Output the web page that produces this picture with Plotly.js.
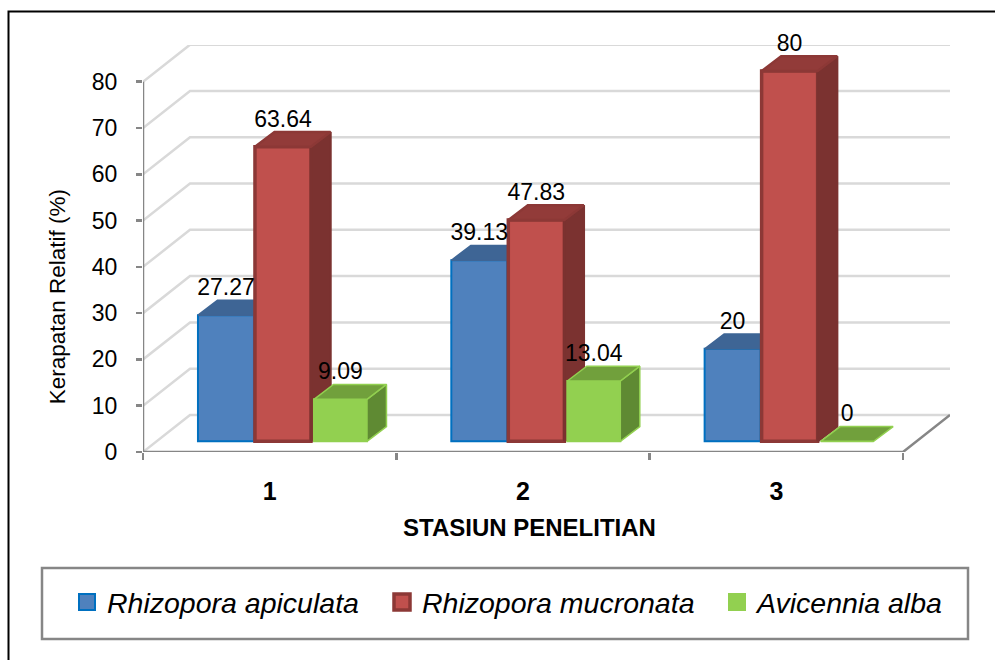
<!DOCTYPE html>
<html><head><meta charset="utf-8">
<script src="https://cdn.plot.ly/plotly-3.0.1.min.js"></script>
<style>html,body{margin:0;padding:0;background:#fff}</style>
</head><body><div id="chart" style="width:995px;height:660px"></div>
<script>
const categories = ['1','2','3'];
const apiculata = [27.27, 39.13, 20];
const mucronata = [63.64, 47.83, 80];
const alba = [9.09, 13.04, 0];
const seriesNames = ['Rhizopora apiculata','Rhizopora mucronata','Avicennia alba'];
const yTicks = [0,10,20,30,40,50,60,70,80];

const L=143,R=950,T=45,B=451.7;
const FONT='"Liberation Sans", Arial, sans-serif';
const px=x=>(x-L)/(R-L), py=y=>(B-y)/(B-T);
const CAT=253.33;
const wallX=47/CAT, wallY=8;
const xMax=3+wallX, yMax=(B-T)/4.625;
const base=2.3, depthY=3.2;
const styles=[
 {off:-43.7,w:56,dx:19.5,face:'#4f81bd',edge:'#0070c0',lw:2,top:'#3e6595',side:'#3e6595',topEdge:'#3e6595',sideEdge:'#3e6595',sw:1.5},
 {off:13.3,w:56,dx:19.5,face:'#c0504d',edge:'#8c3836',lw:3.5,top:'#923b39',side:'#7b3230',topEdge:'#8c3836',sideEdge:'#7b3230',sw:2.5},
 {off:70.8,w:53,dx:19.5,face:'#92d050',edge:'#92d050',lw:2,top:'#71a03c',side:'#5f8a33',topEdge:'#92d050',sideEdge:'#92d050',sw:1.5}
];
const values=[apiculata,mucronata,alba];
const suffix=['','2','3'];
const traces=[];
seriesNames.forEach((n,s)=>traces.push({type:'scatter',mode:'markers',x:[null],y:[null],name:n,
  legend:s?('legend'+(s+1)):'legend',hoverinfo:'skip',
  marker:{symbol:'square',size:16,color:styles[s].face,line:{color:styles[s].edge,width:styles[s].lw}}}));
const centers=s=>categories.map((c,i)=>i+0.5+styles[s].off/CAT);
values.forEach((vals,s)=>{
  const xa='x'+suffix[s], ya='y'+suffix[s], st=styles[s], barW=st.w/CAT, depthX=st.dx/CAT;
  const xs=centers(s);
  traces.push({type:'bar',x:xs,y:vals,base:base,width:barW,xaxis:xa,yaxis:ya,showlegend:false,hoverinfo:'skip',
    marker:{color:st.face,line:{color:st.edge,width:st.lw}}});
  const sx=[],sy=[],tx=[],ty=[];
  vals.forEach((v,i)=>{
    const l=xs[i]-barW/2,r=xs[i]+barW/2,h=base+v;
    if(v>0){sx.push(r,r+depthX,r+depthX,r,r,null);sy.push(base,base+depthY,h+depthY,h,base,null);}
    tx.push(l,r,r+depthX,l+depthX,l,null);ty.push(h,h,h+depthY,h+depthY,h,null);
  });
  traces.push({type:'scatter',mode:'lines',x:sx,y:sy,fill:'toself',fillcolor:st.side,line:{color:st.sideEdge,width:st.sw},xaxis:xa,yaxis:ya,showlegend:false,hoverinfo:'skip'});
  traces.push({type:'scatter',mode:'lines',x:tx,y:ty,fill:'toself',fillcolor:st.top,line:{color:st.topEdge,width:st.sw},xaxis:xa,yaxis:ya,showlegend:false,hoverinfo:'skip'});
});
values.forEach((vals,s)=>{
  traces.push({type:'scatter',mode:'text',xaxis:'x3',yaxis:'y3',showlegend:false,hoverinfo:'skip',cliponaxis:false,
    x:centers(s),y:vals.map(v=>base+v+5.6),
    text:vals.map(String),textposition:'middle center',textfont:{family:FONT,size:23,color:'#000'}});
});
const grey='#868686', gridc='#d9d9d9';
const shapes=[];
yTicks.forEach(v=>shapes.push({type:'path',layer:'below',xref:'x',yref:'y',
  path:`M0,${v} L${wallX},${v+wallY} L${3+wallX},${v+wallY}`,line:{color:gridc,width:2.5}}));
shapes.push({type:'path',layer:'below',xref:'x',yref:'y',path:`M0,80 L0,0 L3,0 L${3+wallX},${wallY}`,line:{color:grey,width:2.5}});
shapes.push({type:'path',layer:'above',xref:'paper',yref:'paper',
  path:`M${px(8.5)},${py(660)} L${px(8.5)},${py(11.5)} L${px(995)},${py(11.5)}`,line:{color:'#000',width:2}});
shapes.push({type:'rect',layer:'above',xref:'paper',yref:'paper',x0:px(42),x1:px(968),y0:py(638.5),y1:py(567.5),line:{color:grey,width:2.5}});
const hiddenX={range:[0,xMax],fixedrange:true,visible:false,overlaying:'x',anchor:'y'};
const hiddenY={range:[0,yMax],fixedrange:true,visible:false,overlaying:'y',anchor:'x'};
const legendBase=x=>({orientation:'h',x:px(x),y:py(602),xanchor:'left',yanchor:'middle',bgcolor:'rgba(0,0,0,0)',
  font:{family:FONT,size:28.5,color:'#000',style:'italic'},borderwidth:0});
const layout={
  width:995,height:660,paper_bgcolor:'#fff',plot_bgcolor:'#fff',
  margin:{l:L,r:995-R,t:T,b:660-B,pad:0},
  barmode:'overlay',
  xaxis:{range:[0,xMax],fixedrange:true,showgrid:false,zeroline:false,showline:false,
    tickmode:'array',tickvals:categories.map((c,i)=>i+0.5),ticktext:categories,ticks:'',ticklabelstandoff:22,
    tickfont:{family:FONT,size:25,color:'#000',weight:'bold'},
    minor:{tickmode:'array',tickvals:[0,1,2,3],ticks:'outside',ticklen:7,tickwidth:2.5,tickcolor:grey,showgrid:false}},
  yaxis:{range:[0,yMax],fixedrange:true,showgrid:false,zeroline:false,showline:false,
    tickmode:'array',tickvals:yTicks,ticks:'outside',ticklen:6,tickwidth:2.5,tickcolor:grey,ticklabelstandoff:14,
    tickfont:{family:FONT,size:23,color:'#000'}},
  xaxis2:hiddenX,yaxis2:hiddenY,
  xaxis3:hiddenX,yaxis3:hiddenY,
  showlegend:true,
  legend:legendBase(67),legend2:legendBase(382),legend3:legendBase(717),
  shapes:shapes,
  annotations:[
   {text:'Kerapatan Relatif (%)',xref:'paper',yref:'paper',x:px(57),y:py(297),textangle:-90,showarrow:false,
    xanchor:'center',yanchor:'middle',font:{family:FONT,size:22.5,color:'#000'}},
   {text:'STASIUN PENELITIAN',xref:'paper',yref:'paper',x:px(529),y:py(527),showarrow:false,
    xanchor:'center',yanchor:'middle',font:{family:FONT,size:24,color:'#000',weight:'bold'}}
  ]
};
Plotly.newPlot('chart',traces,layout,{displayModeBar:false,staticPlot:true});
</script></body></html>
